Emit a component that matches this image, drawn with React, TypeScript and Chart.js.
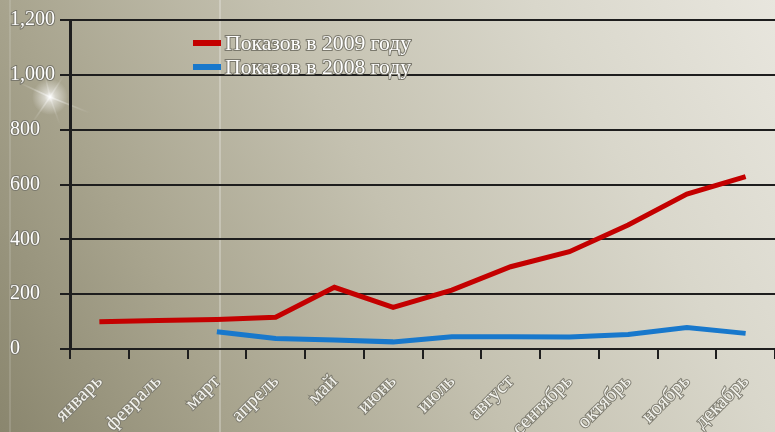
import React, { useEffect, useRef } from "react";
import { Chart, registerables } from "chart.js";

Chart.register(...registerables);

const months = ["январь", "февраль", "март", "апрель", "май", "июнь", "июль", "август", "сентябрь", "октябрь", "ноябрь", "декабрь"];
const shows2009 = [99, 104, 108, 116, 225, 152, 215, 300, 355, 452, 565, 629];
const shows2008 = [null, null, 63, 38, 33, 26, 45, 45, 44, 53, 78, 57];
const label2009 = "Показов в 2009 году";
const label2008 = "Показов в 2008 году";
const yMax = 1200;
const yStep = 200;

const SERIF = "'Liberation Serif', 'DejaVu Serif', serif";

const bgPlugin = {
  id: "bg",
  beforeDraw(chart: any) {
    const { ctx, width, height } = chart;
    ctx.save();
    const g = ctx.createLinearGradient(0, height, width, 0);
    g.addColorStop(0, "#8a866e");
    g.addColorStop(0.24, "#a8a48e");
    g.addColorStop(0.5, "#c4c1b0");
    g.addColorStop(0.76, "#d9d7cb");
    g.addColorStop(1, "#e8e6de");
    ctx.fillStyle = g;
    ctx.fillRect(0, 0, width, height);
    // faint vertical light lines
    ctx.lineWidth = 1.5;
    ctx.strokeStyle = "rgba(255,255,255,0.35)";
    ctx.beginPath();
    ctx.moveTo(220, 0);
    ctx.lineTo(220, height);
    ctx.stroke();
    ctx.strokeStyle = "rgba(255,255,255,0.18)";
    ctx.beginPath();
    ctx.moveTo(10, 0);
    ctx.lineTo(10, height);
    ctx.stroke();
    // sparkle
    const sx = 50, sy = 97;
    const rg = ctx.createRadialGradient(sx, sy, 0, sx, sy, 18);
    rg.addColorStop(0, "rgba(255,255,255,1)");
    rg.addColorStop(0.3, "rgba(255,255,255,0.55)");
    rg.addColorStop(1, "rgba(255,255,255,0)");
    ctx.fillStyle = rg;
    ctx.beginPath();
    ctx.arc(sx, sy, 18, 0, Math.PI * 2);
    ctx.fill();
    const rays = [[-30, -14, 0.5], [40, 16, 0.45], [-18, 26, 0.4], [14, -22, 0.35], [10, 28, 0.3], [-6, -26, 0.3]];
    rays.forEach(([dx, dy, a]) => {
      const lg = ctx.createLinearGradient(sx, sy, sx + dx, sy + dy);
      lg.addColorStop(0, `rgba(255,255,255,${a})`);
      lg.addColorStop(1, "rgba(255,255,255,0)");
      ctx.strokeStyle = lg;
      ctx.lineWidth = 1.5;
      ctx.beginPath();
      ctx.moveTo(sx, sy);
      ctx.lineTo(sx + dx, sy + dy);
      ctx.stroke();
    });
    ctx.restore();
  },
};

const legendPlugin = {
  id: "customLegend",
  afterDraw(chart: any) {
    const { ctx } = chart;
    const items = chart.data.datasets.map((d: any) => ({ label: d.label, color: d.borderColor }));
    ctx.save();
    ctx.font = `21.7px ${SERIF}`;
    ctx.textBaseline = "middle";
    items.forEach((it: any, i: number) => {
      const y = 43 + i * 24;
      ctx.fillStyle = it.color;
      ctx.fillRect(193, y - 3, 28, 6);
      ctx.lineWidth = 2;
      ctx.strokeStyle = "#7a786c";
      ctx.strokeText(it.label, 225, y + 1);
      ctx.fillStyle = "#ffffff";
      ctx.fillText(it.label, 225, y + 1);
    });
    ctx.restore();
  },
};

export default function App() {
  const ref = useRef<HTMLCanvasElement | null>(null);
  useEffect(() => {
    document.body.style.margin = "0";
    const chart = new Chart(ref.current!, {
      type: "line",
      data: {
        labels: months,
        datasets: [
          { label: label2009, data: shows2009, borderColor: "#c40000", borderWidth: 5, pointRadius: 0, tension: 0 },
          { label: label2008, data: shows2008 as any, borderColor: "#1878cc", borderWidth: 5, pointRadius: 0, tension: 0 },
        ],
      },
      options: {
        animation: false,
        responsive: false,
        layout: { padding: { left: 10, top: 20, right: 0, bottom: 0 } },
        plugins: { legend: { display: false }, tooltip: { enabled: false } },
        scales: {
          x: {
            offset: true,
            grid: { display: true, drawOnChartArea: false, drawTicks: true, tickLength: 10, color: "#1e1e1e", lineWidth: 2, offset: true },
            border: { display: true, color: "#1e1e1e", width: 2 },
            ticks: {
              autoSkip: false,
              minRotation: 45,
              maxRotation: 45,
              padding: 11,
              color: "#f4f4ee",
              textStrokeColor: "#7e7c70",
              textStrokeWidth: 2,
              font: { family: SERIF, size: 20 },
            } as any,
            afterFit(scale: any) {
              scale.height = 83;
            },
          },
          y: {
            min: 0,
            max: yMax,
            grid: { color: "#1e1e1e", lineWidth: 2, tickLength: 10 },
            border: { display: true, color: "#1e1e1e", width: 3 },
            ticks: {
              stepSize: yStep,
              crossAlign: "far",
              color: "#ffffff",
              textStrokeColor: "#7a786c",
              textStrokeWidth: 2,
              font: { family: SERIF, size: 20 },
            } as any,
            afterFit(scale: any) {
              scale.width = 60;
            },
          },
        },
      },
      plugins: [bgPlugin, legendPlugin],
    });
    return () => chart.destroy();
  }, []);
  return (
    <div style={{ position: "fixed", left: 0, top: 0, width: 775, height: 432 }}>
      <canvas ref={ref} width={775} height={432} style={{ display: "block", width: 775, height: 432 }} />
    </div>
  );
}
